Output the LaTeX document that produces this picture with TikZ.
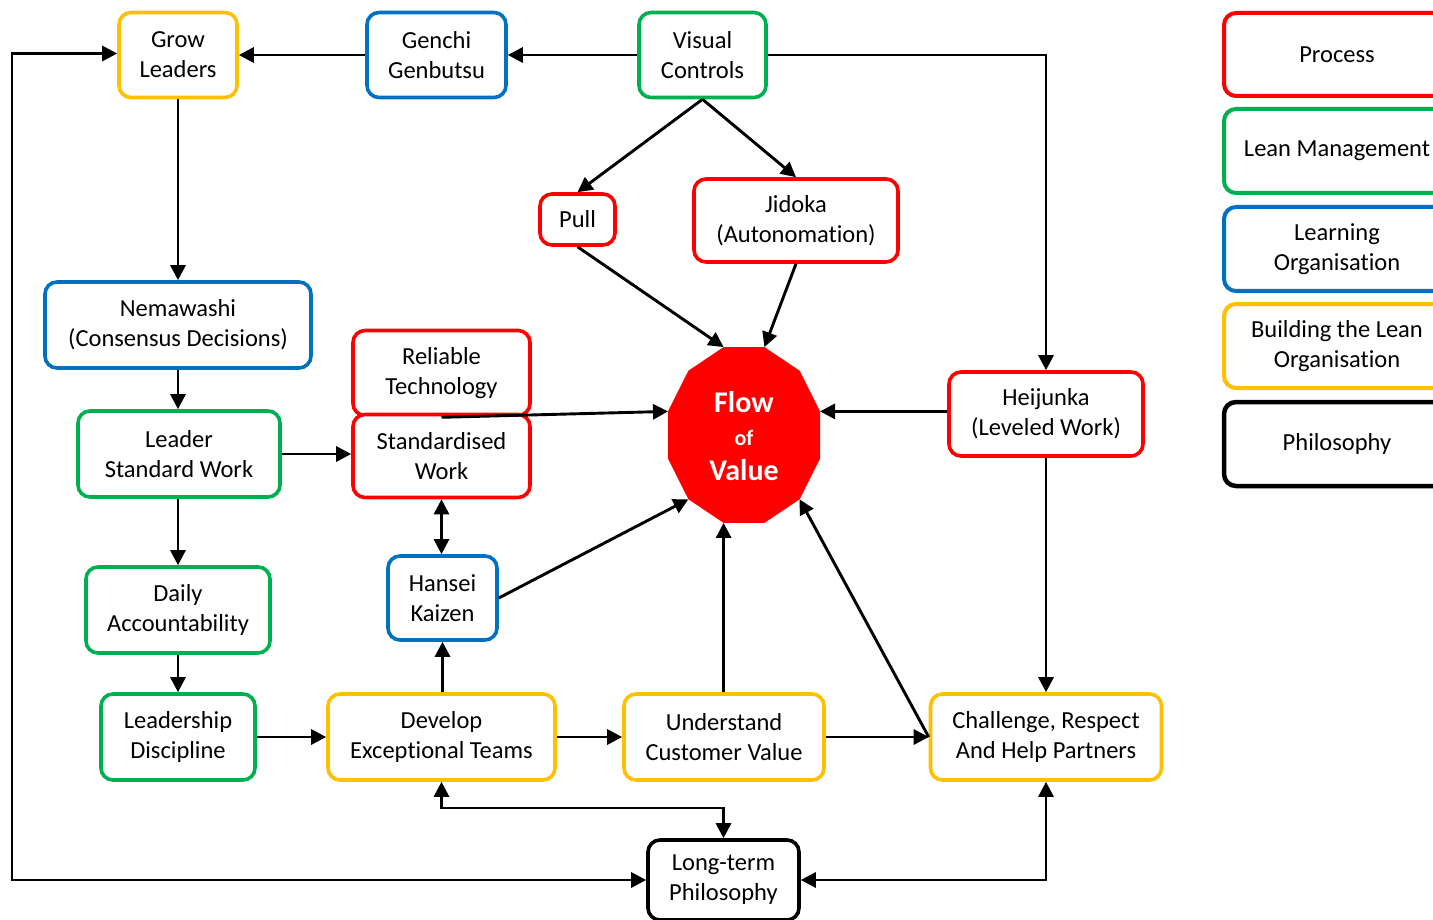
\documentclass[tikz,border=0pt]{standalone}
\usepackage{fontspec}
\setmainfont{Carlito}[Ligatures=NoCommon]
\usetikzlibrary{arrows.meta,calc}
\definecolor{cred}{RGB}{255,0,0}
\definecolor{cgreen}{RGB}{0,176,80}
\definecolor{cblue}{RGB}{0,112,192}
\definecolor{cgold}{RGB}{255,192,0}
\begin{document}
\begin{tikzpicture}[x=1pt,y=-1pt,
  box/.style={draw, line width=3.6pt, rounded corners=12pt, fill=white, align=center,
    font=\fontsize{24.5}{30}\selectfont, inner sep=0pt},
  arr/.style={line width=2.9pt, -{Triangle[length=15pt,width=15pt]}},
  darr/.style={line width=2.9pt, {Triangle[length=15pt,width=15pt]}-{Triangle[length=15pt,width=15pt]}},
]
\path[use as bounding box] (0,0) rectangle (1433,920);
\clip (0,0) rectangle (1433,920);

% ---- nodes ----
\node[box, draw=cgold,  minimum width=118pt, minimum height=85pt] (grow)   at (178,55)  {Grow\\Leaders};
\node[box, draw=cblue,  minimum width=139pt, minimum height=85pt] (genchi) at (436.5,55) {Genchi\\Genbutsu};
\node[box, draw=cgreen, minimum width=127pt, minimum height=85pt] (visual) at (702.5,55) {Visual\\Controls};
\node[box, draw=cred,   minimum width=75pt,  minimum height=51pt] (pull)   at (577.5,219.5) {Pull};
\node[box, draw=cred,   minimum width=204pt, minimum height=83pt] (jidoka) at (796,220.5)  {Jidoka\\(Autonomation)};
\node[box, draw=cblue,  minimum width=266pt, minimum height=86pt] (nema)   at (178,325)    {Nemawashi\\(Consensus Decisions)};
\node[box, draw=cred,   minimum width=177pt, minimum height=85pt] (rel)    at (441.5,373)  {Reliable\\Technology};
\node[box, draw=cred,   minimum width=177pt, minimum height=83pt] (std)    at (441.5,456)  {Standardised\\Work};
\node[box, draw=cgreen, minimum width=202pt, minimum height=86pt] (lsw)    at (179,454)    {Leader\\Standard Work};
\node[box, draw=cred,   minimum width=194pt, minimum height=84pt] (heij)   at (1046,414)   {Heijunka\\(Leveled Work)};
\node[box, draw=cblue,  minimum width=109pt, minimum height=84pt] (hansei) at (442.5,598)  {Hansei\\Kaizen};
\node[box, draw=cgreen, minimum width=184pt, minimum height=86pt] (daily)  at (178,610)    {Daily\\Accountability};
\node[box, draw=cgreen, minimum width=154pt, minimum height=86pt] (ldisc)  at (178,737)    {Leadership\\Discipline};
\node[box, draw=cgold,  minimum width=227pt, minimum height=86pt] (dev)    at (441.5,737)  {Develop\\Exceptional Teams};
\node[box, draw=cgold,  minimum width=200pt, minimum height=86pt] (und)    at (724,737)    {Understand\\Customer Value};
\node[box, draw=cgold,  minimum width=231pt, minimum height=86pt] (chal)   at (1046,737)   {Challenge, Respect\\And Help Partners};
\node[box, draw=black,  minimum width=151pt, minimum height=80pt] (long)   at (723.5,880)  {Long-term\\Philosophy};

% ---- legend ----
\node[box, draw=cred,   line width=4pt, minimum width=226pt, minimum height=83pt] (lgp) at (1337,54.5)  {Process};
\node[box, draw=cgreen, line width=4pt, minimum width=226pt, minimum height=84pt] (lgm) at (1337,151)   {Lean Management};
\node[box, draw=cblue,  line width=4pt, minimum width=226pt, minimum height=84pt] (lgl) at (1337,249)   {Learning\\Organisation};
\node[box, draw=cgold,  line width=4pt, minimum width=226pt, minimum height=84pt] (lgb) at (1337,346)   {Building the Lean\\Organisation};
\node[box, draw=black,  line width=4.5pt, minimum width=226pt, minimum height=84pt] (lgh) at (1337,444) {Philosophy};

% ---- flow of value 12-gon ----
\coordinate (fRT) at (820,411.4);
\coordinate (fUR) at (799.6,370.7);
\coordinate (fTR) at (764.4,347.1);
\coordinate (fTL) at (723.6,347.1);
\coordinate (fUL) at (688.4,370.7);
\coordinate (fLT) at (668,411.4);
\coordinate (fLB) at (668,458.6);
\coordinate (fDL) at (688.4,499.3);
\coordinate (fBL) at (723.6,522.9);
\coordinate (fBR) at (764.4,522.9);
\coordinate (fDR) at (799.6,499.3);
\coordinate (fRB) at (820,458.6);
\fill[cred] (fRT) -- (fUR) -- (fTR) -- (fTL) -- (fUL) -- (fLT) -- (fLB) -- (fDL) -- (fBL) -- (fBR) -- (fDR) -- (fRB) -- cycle;
\node[text=white, font=\bfseries, align=center, inner sep=0pt] (flow) at (744,436)
  {\fontsize{30}{30}\selectfont Flow\\[17pt]\fontsize{22}{30}\selectfont of\\[13pt]\fontsize{30}{30}\selectfont Value};

% ---- connectors ----
\draw[arr] (genchi) -- (grow);
\draw[arr] (visual) -- (genchi);
\draw[arr] (visual.east) -| (heij.north);
\draw[arr] (visual.south) -- (pull.north);
\draw[arr] (visual.south) -- (jidoka.north);
\draw[arr] (pull.south) -- (fTL);
\draw[arr] (jidoka.south) -- (fTR);
\draw[arr] (grow) -- (nema);
\draw[arr] (nema) -- (lsw.north -| nema.south);
\draw[arr] (lsw.east) -- (std.west |- lsw.east);
\draw[arr] (lsw.south -| daily.north) -- (daily);
\draw[arr] (daily) -- (ldisc);
\draw[arr] (ldisc) -- (dev);
\draw[arr] (dev) -- (und);
\draw[arr] (und) -- (chal);
\draw[arr] (dev.north -| hansei.south) -- (hansei.south);
\draw[darr] (hansei.north -| std.south) -- (std.south);
\draw[arr] (hansei.east) -- (fDL);
\draw[arr] (rel.south) -- (fLT);
\draw[arr] (heij.west |- fRT) -- (fRT);
\draw[arr] (heij) -- (chal);
\draw[arr] (fBL |- und.north) -- (fBL);
\draw[arr] (chal.west) -- (fDR);
\coordinate (j1) at (441.5,808);
\draw[darr] (dev.south) -- (j1) -| (long.north);
\draw[darr] (chal.south) |- (long.east);
\coordinate (j2) at (12,880);
\coordinate (j3) at (12,53.5);
\draw[darr] (long.west) -- (j2) -- (j3) -- (grow.west |- j3);
\end{tikzpicture}
\end{document}
